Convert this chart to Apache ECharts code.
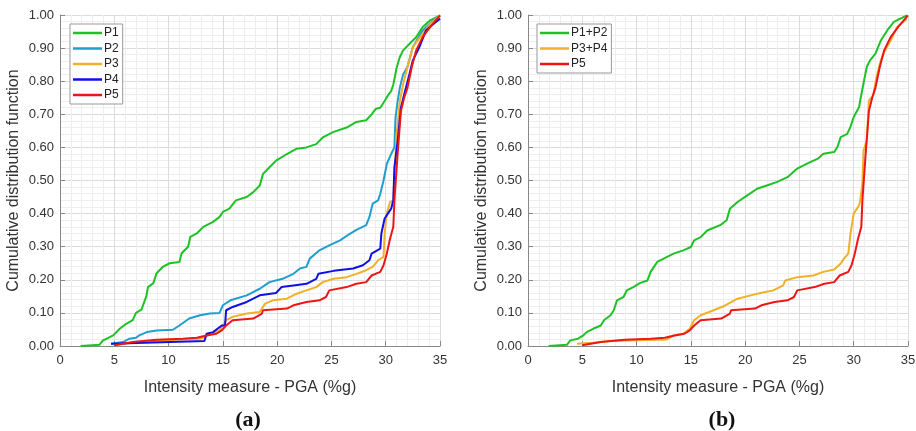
<!DOCTYPE html>
<html><head><meta charset="utf-8">
<script src="https://cdn.jsdelivr.net/npm/echarts@6/dist/echarts.min.js"></script>
<style>html,body{margin:0;padding:0;background:#fff}#c{width:916px;height:431px}</style>
</head><body><div id="c"></div>
<script>
// ---- Data ----
const xTicks = [0, 5, 10, 15, 20, 25, 30, 35];
const yTicks = ["0.00","0.10","0.20","0.30","0.40","0.50","0.60","0.70","0.80","0.90","1.00"];

const p1X = [1.9,3.65,3.96,4.3,4.9,5.5,6.1,6.7,7.0,7.5,7.95,8.1,8.6,8.9,9.5,10.1,11.0,11.2,11.8,12.0,12.6,13.2,14.1,14.7,15.0,15.6,16.2,17.2,17.8,18.4,18.7,19.3,19.9,20.9,21.8,22.7,23.6,24.2,25.2,26.4,27.3,28.2,28.7,29.1,29.5,29.9,30.2,30.5,30.7,31.0,31.3,31.6,32.2,32.8,33.4,34.1,35.0];
const p1Y = [0.0,0.004,0.017,0.022,0.032,0.052,0.067,0.078,0.10,0.11,0.15,0.178,0.19,0.22,0.24,0.25,0.254,0.28,0.30,0.33,0.34,0.36,0.375,0.39,0.405,0.415,0.44,0.45,0.465,0.485,0.52,0.54,0.56,0.58,0.596,0.60,0.61,0.63,0.647,0.66,0.677,0.682,0.70,0.717,0.72,0.74,0.757,0.77,0.79,0.84,0.873,0.893,0.913,0.933,0.964,0.984,0.999];

const p2X = [4.7,5.8,6.4,7.0,7.3,8.0,8.9,10.4,11.0,11.9,12.9,13.8,14.7,15.0,15.7,17.2,18.4,19.3,20.5,21.5,22.1,22.7,23.0,23.9,24.8,25.8,26.7,27.3,28.2,28.5,28.8,29.3,29.5,29.8,30.1,30.5,30.8,30.9,31.1,31.3,31.6,32.0,32.5,33.4,34.4,35.0];
const p2Y = [0.007,0.012,0.022,0.025,0.032,0.042,0.047,0.049,0.062,0.083,0.093,0.098,0.10,0.123,0.138,0.153,0.173,0.193,0.203,0.218,0.234,0.239,0.264,0.289,0.304,0.319,0.339,0.351,0.365,0.39,0.43,0.44,0.46,0.50,0.55,0.58,0.60,0.69,0.74,0.78,0.82,0.843,0.903,0.953,0.984,0.997];

const p3X = [5.2,7.3,9.8,12.9,13.6,14.7,15.3,15.9,17.2,18.4,18.9,19.6,20.9,21.8,22.7,23.6,24.2,25.2,26.4,27.3,28.2,28.8,29.3,29.8,29.9,30.1,30.4,30.7,31.0,31.3,31.6,32.0,32.5,33.1,34.1,35.0];
const p3Y = [0.004,0.012,0.017,0.022,0.032,0.047,0.078,0.088,0.098,0.103,0.128,0.138,0.143,0.158,0.168,0.178,0.193,0.203,0.208,0.218,0.229,0.239,0.259,0.269,0.34,0.40,0.435,0.44,0.64,0.74,0.79,0.843,0.903,0.93,0.973,0.999];

const p4X = [4.7,13.3,13.5,14.1,14.9,15.2,15.3,15.9,17.2,18.4,19.9,20.4,21.5,22.7,23.6,23.8,25.2,27.0,27.9,28.5,28.7,29.5,29.6,29.9,30.5,30.7,30.8,31.1,31.4,31.7,32.2,32.5,33.1,33.7,34.4,35.0];
const p4Y = [0.007,0.015,0.037,0.042,0.062,0.062,0.108,0.118,0.133,0.153,0.16,0.178,0.183,0.188,0.203,0.218,0.227,0.234,0.244,0.259,0.279,0.294,0.34,0.385,0.415,0.44,0.54,0.62,0.72,0.76,0.823,0.863,0.903,0.953,0.973,0.989];

const p5X = [5.0,6.7,8.9,11.3,12.6,13.5,14.4,14.9,15.3,15.9,17.8,18.6,18.7,20.9,21.5,22.7,23.9,24.5,24.8,26.4,27.3,28.2,28.7,29.5,29.8,30.1,30.4,30.7,30.8,31.1,31.4,31.7,32.0,32.4,32.8,33.4,34.1,35.0];
const p5Y = [0.002,0.012,0.019,0.022,0.025,0.032,0.037,0.047,0.062,0.078,0.083,0.098,0.108,0.113,0.123,0.133,0.138,0.148,0.168,0.178,0.188,0.193,0.213,0.224,0.244,0.279,0.324,0.36,0.44,0.58,0.71,0.75,0.78,0.843,0.893,0.933,0.964,0.999];

const p12X = [1.9,3.6,3.9,4.6,5.1,5.4,6.0,6.7,7.0,7.6,7.9,8.2,8.8,9.1,9.7,10.3,11.0,11.3,11.6,11.9,12.5,13.4,14.3,15.0,15.3,15.9,16.5,17.7,18.3,18.6,19.3,20.2,21.1,22.0,22.9,23.9,24.8,25.7,26.7,27.2,28.2,28.5,28.8,29.4,29.7,30.0,30.5,30.6,30.9,31.2,31.5,32.0,32.5,33.1,33.7,34.3,34.9];
const p12Y = [0.0,0.004,0.017,0.022,0.032,0.042,0.052,0.062,0.078,0.093,0.108,0.138,0.148,0.168,0.178,0.19,0.198,0.224,0.239,0.254,0.264,0.279,0.289,0.299,0.319,0.329,0.349,0.365,0.38,0.415,0.435,0.455,0.475,0.485,0.495,0.51,0.536,0.551,0.566,0.581,0.586,0.601,0.631,0.641,0.662,0.692,0.722,0.742,0.793,0.843,0.863,0.883,0.923,0.954,0.979,0.989,0.999];

const p34X = [4.5,6.0,7.6,10.0,12.8,13.4,14.3,14.9,15.3,15.9,17.1,18.0,19.3,20.5,21.4,22.6,23.5,23.7,24.8,26.3,27.2,28.2,28.8,29.1,29.5,29.7,30.0,30.5,30.6,30.8,30.9,31.2,31.4,31.8,32.1,32.5,32.8,33.4,34.0,34.9];
const p34Y = [0.007,0.01,0.015,0.017,0.02,0.032,0.037,0.052,0.078,0.093,0.108,0.12,0.143,0.153,0.16,0.168,0.183,0.198,0.208,0.213,0.224,0.231,0.249,0.264,0.279,0.339,0.40,0.425,0.44,0.49,0.59,0.62,0.742,0.757,0.813,0.863,0.888,0.923,0.964,0.989];

const colors = {P1:'#1fc226', P2:'#1f9fd0', P3:'#f0b02a', P4:'#1010e8', P5:'#ee1515'};

// ---- Chart ----
function zip(xs, ys){ return xs.map((x,i)=>[x, ys[i]]); }
const FONT = 'Liberation Sans, Arial, sans-serif';
const chart = echarts.init(document.getElementById('c'), null, {renderer:'canvas'});

function xAxisCfg(idx){
  return {
    type:'value', gridIndex:idx, min:xTicks[0], max:xTicks[xTicks.length-1], interval:5,
    name:'Intensity measure - PGA (%g)', nameLocation:'middle', nameGap:34,
    nameTextStyle:{fontFamily:FONT, fontSize:16, color:'#333'},
    axisLine:{show:true, lineStyle:{color:'#888', width:1}},
    axisTick:{show:true, inside:true, length:5, lineStyle:{color:'#888'}},
    axisLabel:{fontFamily:FONT, fontSize:13, color:'#333', margin:8},
    splitLine:{show:true, lineStyle:{color:'#dcdcdc', width:1}},
    minorTick:{show:false, splitNumber:5},
    minorSplitLine:{show:true, lineStyle:{color:'#eeeeee', width:1}}
  };
}
function yAxisCfg(idx){
  return {
    type:'value', gridIndex:idx, min:0, max:1, interval:0.1,
    name:'Cumulative distribution function', nameLocation:'middle', nameGap:38,
    nameTextStyle:{fontFamily:FONT, fontSize:16, color:'#333'},
    axisLine:{show:true, lineStyle:{color:'#888', width:1}},
    axisTick:{show:true, inside:true, length:5, lineStyle:{color:'#888'}},
    axisLabel:{fontFamily:FONT, fontSize:13, color:'#333', margin:6,
      formatter:(v)=>yTicks[Math.round(v*10)]},
    splitLine:{show:true, lineStyle:{color:'#dcdcdc', width:1}},
    minorTick:{show:false, splitNumber:5},
    minorSplitLine:{show:true, lineStyle:{color:'#eeeeee', width:1}}
  };
}
function ser(name, xi, xs, ys, col){
  return {type:'line', name:name, xAxisIndex:xi, yAxisIndex:xi, data:zip(xs,ys),
    symbol:'none', showSymbol:false, animation:false,
    lineStyle:{width:2, color:col}, itemStyle:{color:col}};
}
function legendCfg(left, names){
  return {left:left, top:24, orient:'vertical', data:names, padding:[2,4,2,3],
    icon:'rect', itemWidth:29, itemHeight:2.5, itemGap:1.5, backgroundColor:'#fff',
    borderColor:'#999', borderWidth:1, borderRadius:0,
    textStyle:{fontFamily:FONT, fontSize:12, color:'#222', padding:[0,0,0,-3], lineHeight:14}};
}

chart.setOption({
  backgroundColor:'#fff',
  animation:false,
  grid:[
    {left:60, top:15, width:380, height:331, outerBoundsMode:'none', containLabel:false},
    {left:528, top:15, width:380, height:331, outerBoundsMode:'none', containLabel:false}
  ],
  xAxis:[xAxisCfg(0), xAxisCfg(1)],
  yAxis:[yAxisCfg(0), yAxisCfg(1)],
  legend:[legendCfg(70, ['P1','P2','P3','P4','P5']), legendCfg(537, ['P1+P2','P3+P4','P5'])],
  title:[
    {text:'(a)', left:243, top:404, textAlign:'center', textStyle:{fontFamily:'Liberation Serif, Times New Roman, serif', fontWeight:'bold', fontSize:22, color:'#111'}},
    {text:'(b)', left:717, top:404, textAlign:'center', textStyle:{fontFamily:'Liberation Serif, Times New Roman, serif', fontWeight:'bold', fontSize:22, color:'#111'}}
  ],
  series:[
    ser('P1',0,p1X,p1Y,colors.P1), ser('P2',0,p2X,p2Y,colors.P2), ser('P3',0,p3X,p3Y,colors.P3),
    ser('P4',0,p4X,p4Y,colors.P4), ser('P5',0,p5X,p5Y,colors.P5),
    ser('P1+P2',1,p12X,p12Y,colors.P1), ser('P3+P4',1,p34X,p34Y,colors.P3), ser('P5',1,p5X,p5Y,colors.P5)
  ]
});
</script></body></html>
